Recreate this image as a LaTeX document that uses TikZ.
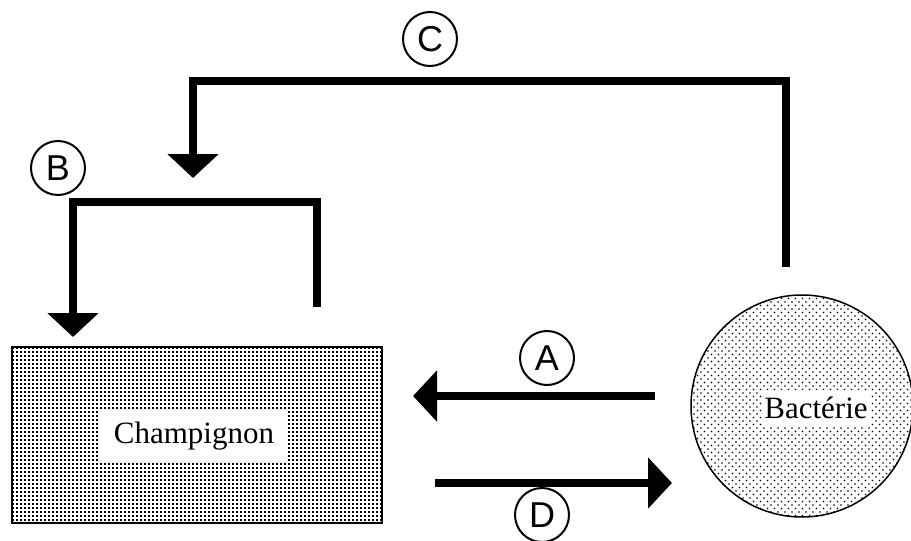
\documentclass[tikz,border=0pt]{standalone}
\usepackage{fontspec}
\setmainfont{Liberation Serif}
\newfontfamily\lettersf{Liberation Sans}
\usetikzlibrary{arrows.meta,patterns}
\pgfdeclarepatternformonly{griddots}{\pgfpoint{-1pt}{-1pt}}{\pgfpoint{5pt}{5pt}}{\pgfpoint{4pt}{4pt}}{\pgfpathrectangle{\pgfpoint{0pt}{0pt}}{\pgfpoint{2.3pt}{2.3pt}}\pgfusepath{fill}}
\pgfdeclarepatternformonly{stagdots}{\pgfpoint{-1pt}{-1pt}}{\pgfpoint{8pt}{8pt}}{\pgfpoint{7pt}{7pt}}{\pgfpathcircle{\pgfpoint{1pt}{1pt}}{0.9pt}\pgfpathcircle{\pgfpoint{4.5pt}{4.5pt}}{0.9pt}\pgfusepath{fill}}
\begin{document}
\begin{tikzpicture}[x=1pt,y=-1pt,
  flow/.style={line width=8pt, line join=miter},
  head/.style={-{Triangle[width=50pt,length=24pt]}},
  lbl/.style={circle, draw, line width=2pt, minimum size=54pt, inner sep=0pt, font=\lettersf\fontsize{36}{36}\selectfont},
  txt/.style={fill=white, inner sep=0pt, font=\fontsize{31}{31}\selectfont}]
\useasboundingbox[fill=white] (0,0) rectangle (911,541);
% entities
\node[draw, line width=2pt, pattern=griddots, minimum width=370pt, minimum height=176pt, inner sep=0pt] (champ) at (197,435) {};
\node[txt, minimum width=188pt, minimum height=52pt] (champtxt) at (194,436) {Champignon};
\node[circle, draw, line width=1.5pt, pattern=stagdots, minimum size=222pt, inner sep=0pt] (bact) at (802,406) {};
\node[txt, minimum width=108pt, minimum height=36pt] (bacttxt) at (816,408) {Bactérie};
% connector ends
\coordinate (cS) at (786,267);
\coordinate (cE) at (193,178);
\coordinate (bS) at (317,307);
\coordinate (bE) at (73,337);
\coordinate (aS) at (655,396);
\coordinate (aE) at (413,396);
\coordinate (dS) at (435,483);
\coordinate (dE) at (672,483);
% connectors
\draw[flow, head] (cS) -- (cS |- 0,81) -- (cE |- 0,81) -- (cE);
\draw[flow, head] (bS) -- (bS |- 0,202) -- (bE |- 0,202) -- (bE);
\draw[flow, head] (aS) -- (aE);
\draw[flow, head] (dS) -- (dE);
% labels
\node[lbl] (lC) at (430,39) {C};
\node[lbl] (lB) at (58,168) {B};
\node[lbl] (lA) at (547,358) {A};
\node[lbl] (lD) at (542,515) {D};
\end{tikzpicture}
\end{document}
